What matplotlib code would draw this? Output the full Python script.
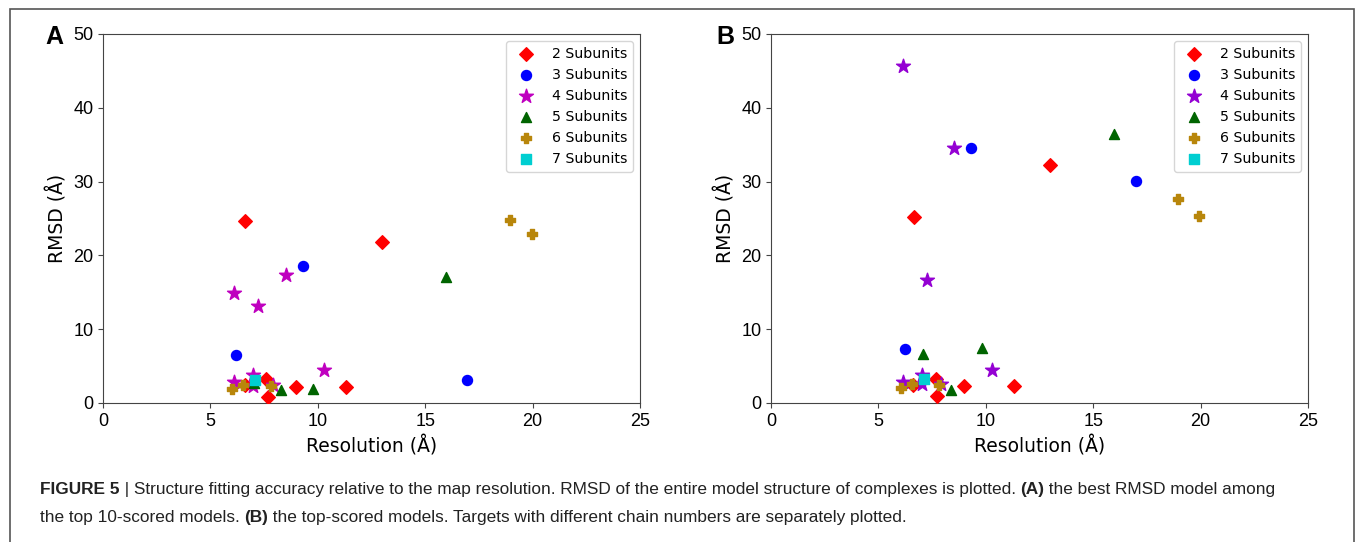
import matplotlib
matplotlib.use("Agg")
import matplotlib.pyplot as plt
from matplotlib.patches import Rectangle
from matplotlib.text import Annotation

# values: resolution (Å) and RMSD (Å) per subunit count
labels = ["2 Subunits", "3 Subunits", "4 Subunits", "5 Subunits", "6 Subunits", "7 Subunits"]
markers = ["D", "o", "*", "^", "P", "s"]

# panel A: best RMSD among the top 10 models
a_res = [
    [6.6, 13.0, 7.6, 7.7, 9.0, 11.3, 6.6],
    [9.3, 6.2, 16.95],
    [6.1, 8.5, 7.2, 10.3, 6.1, 7.0, 7.0, 7.9],
    [15.96, 8.3, 9.8, 7.05],
    [6.0, 6.5, 7.8, 18.95, 19.95],
    [7.07],
]
a_rmsd = [
    [24.7, 21.8, 3.2, 0.85, 2.1, 2.1, 2.4],
    [18.6, 6.5, 3.07],
    [14.9, 17.3, 13.2, 4.4, 2.85, 3.8, 2.3, 2.4],
    [17.1, 1.7, 1.85, 2.75],
    [1.9, 2.4, 2.3, 24.75, 22.9],
    [3.1],
]

# panel B: top-scored models
b_res = [
    [12.98, 6.65, 11.33, 9.0, 7.73, 7.66, 6.6],
    [9.32, 16.98, 6.24],
    [6.14, 8.54, 7.24, 10.31, 6.14, 7.04, 7.04, 7.93],
    [15.99, 7.08, 9.81, 8.37],
    [18.95, 19.94, 6.07, 6.58, 7.84],
    [7.13],
]
b_rmsd = [
    [32.3, 25.2, 2.26, 2.26, 0.98, 3.3, 2.44],
    [34.6, 30.1, 7.34],
    [45.6, 34.6, 16.6, 4.44, 2.85, 3.76, 2.6, 2.6],
    [36.5, 6.6, 7.5, 1.8],
    [27.6, 25.3, 2.07, 2.6, 2.4],
    [3.2],
]

a_colors = ["#ff0000", "#0000ff", "#bf00bf", "#006400", "#b8860b", "#00ced1"]
b_colors = ["#ff0000", "#0000ff", "#9400d3", "#006400", "#b8860b", "#00ced1"]
sizes = [48, 52, 110, 52, 60, 48]

xticks = [0, 5, 10, 15, 20, 25]
yticks = [0, 10, 20, 30, 40, 50]

caption = [
    [("FIGURE 5", True),
     (" | Structure fitting accuracy relative to the map resolution. "
      "RMSD of the entire model structure of complexes is plotted. ", False),
     ("(A)", True), (" the best RMSD model among", False)],
    [("the top 10-scored models. ", False), ("(B)", True),
     (" the top-scored models. Targets with different chain numbers are separately plotted.", False)],
]

W, H = 1355, 542
fig = plt.figure(figsize=(W / 100, H / 100), dpi=100)

# outer frame of the figure page
fig.patches.append(Rectangle((9.5 / W, -0.02), 1344 / W, 1.02 - 8.5 / H,
                             transform=fig.transFigure, fill=False,
                             edgecolor="#555555", linewidth=1.2))


def panel(left, res, rmsd, colors, letter, letter_x):
    ax = fig.add_axes([left, 0.2565, 0.3963, 0.681])
    for r, m, c, mk, s, lab in zip(res, rmsd, colors, markers, sizes, labels):
        ax.scatter(r, m, c=c, marker=mk, s=s, label=lab, zorder=3)
    ax.set_xlim(0, 25)
    ax.set_ylim(0, 50)
    ax.set_xticks(xticks)
    ax.set_yticks(yticks)
    for t in ax.get_xticklabels() + ax.get_yticklabels():
        t.set_fontfamily("Liberation Sans")
        t.set_fontsize(13)
    for sp in ax.spines.values():
        sp.set_color("#444444")
    ax.tick_params(color="#444444")
    ax.set_xlabel("Resolution (Å)", fontsize=13.5, labelpad=4)
    ax.set_ylabel("RMSD (Å)", fontsize=13.5)
    ax.legend(loc="upper right", fontsize=10.2, labelspacing=0.5, scatterpoints=1)
    fig.text(letter_x / W, 1 - 44 / H, letter, fontsize=18, fontweight="bold",
             family="Liberation Sans", va="baseline", ha="left")
    return ax


panel(103 / W, a_res, a_rmsd, a_colors, "A", 45)
panel(771 / W, b_res, b_rmsd, b_colors, "B", 716)

# caption, bold pieces chained after the normal ones
line_y = [1 - 497 / H, 1 - 525 / H]
for pieces, y in zip(caption, line_y):
    prev = None
    for txt, bold in pieces:
        kw = dict(fontsize=12.4, family="Liberation Sans",
                  fontweight="bold" if bold else "normal",
                  color="#222222", va="bottom", ha="left")
        if prev is None:
            prev = fig.text(40 / W, y, txt, **kw)
        else:
            prev = fig.add_artist(Annotation(txt, xy=(1, 0), xycoords=prev, **kw))

fig.savefig("out.png", dpi=100)
